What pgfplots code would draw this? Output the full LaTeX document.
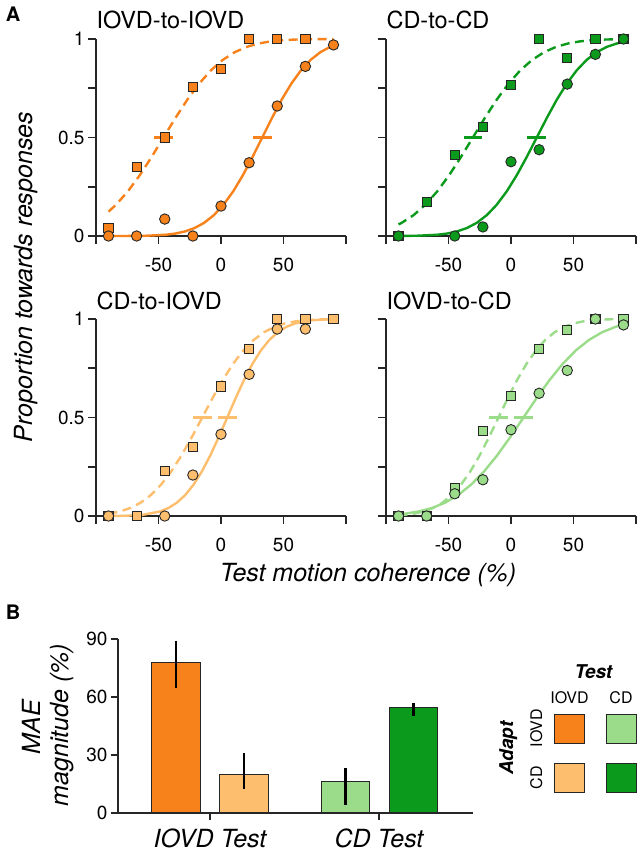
\documentclass[border=0pt]{standalone}
\usepackage{pgfplots}
\pgfplotsset{compat=1.18}
\usepackage{fontspec}
\setmainfont{TeX Gyre Heros}

\definecolor{orD}{HTML}{F7821B}
\definecolor{orL}{HTML}{FDBE6E}
\definecolor{grL}{HTML}{9BDC8A}
\definecolor{grD}{HTML}{0C9A1C}
\definecolor{axc}{HTML}{262626}

\pgfplotsset{
  panel/.style={
    scale only axis, width=250pt, height=197pt,
    xmin=-100, xmax=100, ymin=0, ymax=1,
    axis x line*=bottom, axis y line*=left,
    axis line style={line width=1.7pt, axc},
    clip=false,
    xtick={-100,-50,0,50,100}, xticklabels={,-50,0,50,},
    ytick={0,0.25,0.5,0.75,1},
    tick align=outside, major tick length=8pt,
    tick style={line width=1.7pt, axc},
    tick label style={font=\fontsize{19}{21}\selectfont},
    xticklabel style={yshift=-10pt},
  },
  fitD/.style={no marks, line width=2.4pt, dash pattern=on 9pt off 5.5pt, #1},
  fitS/.style={no marks, line width=2.4pt, #1},
  pse/.style={no marks, line width=2.8pt, #1},
  sq/.style={only marks, mark=square*, mark size=4.6pt,
    mark options={fill=#1, draw=axc, line width=0.9pt, solid}},
  ci/.style={only marks, mark=*, mark size=5.2pt,
    mark options={fill=#1, draw=axc, line width=0.9pt, solid}},
  barerr/.style={draw=axc, line width=1pt, fill=#1,
    error bars/y dir=both, error bars/y explicit, error bars/error mark=none,
    error bars/error bar style={line width=2.6pt, black}},
}

\begin{document}
\begin{tikzpicture}
\useasboundingbox (0pt,0pt) rectangle (638pt,-852pt);

% ---------- A: IOVD-to-IOVD
\begin{axis}[panel, at={(96pt,-236pt)}, anchor=south west, yticklabels={0,,0.5,,1}]
\addplot[fitD=orD] coordinates {(-90,0.1235) (-84,0.1587) (-74.5,0.2266) (-65,0.3085) (-55.5,0.4013) (-46,0.5) (-36.5,0.5987) (-27,0.6915) (-17.5,0.7734) (-8,0.8413) (1.5,0.8944) (11,0.9332) (20.5,0.9599) (30,0.9772) (39.5,0.9878) (49,0.9938) (58.5,0.9970) (68,0.99865) (77.5,0.99942) (90,0.9998)};
\addplot[fitS=orD] coordinates {(-90,0.00004) (-75.5,0.00023) (-60,0.00135) (-44.5,0.0062) (-36.75,0.0122) (-29,0.0228) (-21.25,0.0401) (-13.5,0.0668) (-5.75,0.1056) (2,0.1587) (9.75,0.2266) (17.5,0.3085) (25.25,0.4013) (33,0.5) (40.75,0.5987) (48.5,0.6915) (56.25,0.7734) (64,0.8413) (71.75,0.8944) (79.5,0.9332) (87.25,0.9599) (90,0.967)};
\addplot[pse=orD] coordinates {(-53.5,0.5) (-38.5,0.5)};
\addplot[pse=orD] coordinates {(25.5,0.5) (40.5,0.5)};
\addplot[sq=orD] coordinates {(-90,0.039) (-67.5,0.352) (-45,0.50) (-22.5,0.758) (0,0.848) (22.5,1) (45,1) (67.5,1)};
\addplot[ci=orD] coordinates {(-90,0) (-67.5,0) (-45,0.086) (-22.5,0) (0,0.152) (22.5,0.372) (45,0.66) (67.5,0.861) (90,0.97)};
\end{axis}

% ---------- CD-to-CD
\begin{axis}[panel, at={(386pt,-236pt)}, anchor=south west, yticklabels={}]
\addplot[fitD=grD] coordinates {(-90,0.0587) (-87.5,0.0668) (-78,0.1056) (-68.5,0.1587) (-59,0.2266) (-49.5,0.3085) (-40,0.4013) (-30.5,0.5) (-21,0.5987) (-11.5,0.6915) (-2,0.7734) (7.5,0.8413) (17,0.8944) (26.5,0.9332) (36,0.9599) (45.5,0.9772) (55,0.9878) (64.5,0.9938) (74,0.9970) (83.5,0.99865) (90,0.9992)};
\addplot[fitS=grD] coordinates {(-90,0.0003) (-75.4,0.00135) (-59.4,0.0062) (-51.4,0.0122) (-43.4,0.0228) (-35.4,0.0401) (-27.4,0.0668) (-19.4,0.1056) (-11.4,0.1587) (-3.4,0.2266) (4.6,0.3085) (12.6,0.4013) (20.6,0.5) (28.6,0.5987) (36.6,0.6915) (44.6,0.7734) (52.6,0.8413) (60.6,0.8944) (68.6,0.9332) (76.6,0.9599) (84.6,0.9772) (90,0.985)};
\addplot[pse=grD] coordinates {(-38,0.5) (-23,0.5)};
\addplot[pse=grD] coordinates {(13,0.5) (28,0.5)};
\addplot[sq=grD] coordinates {(-90,0) (-67.5,0.171) (-45,0.411) (-22.5,0.555) (0,0.766) (22.5,1) (45,0.902) (67.5,1) (90,1)};
\addplot[ci=grD] coordinates {(-90,0) (-45,0) (-22.5,0.046) (0,0.377) (22.5,0.438) (45,0.771) (67.5,0.922) (90,1)};
\end{axis}

% ---------- CD-to-IOVD
\begin{axis}[panel, at={(96pt,-516pt)}, anchor=south west, yticklabels={0,,0.5,,1}]
\addplot[fitD=orL] coordinates {(-90,0.0116) (-81,0.0228) (-72.75,0.0401) (-64.5,0.0668) (-56.25,0.1056) (-48,0.1587) (-39.75,0.2266) (-31.5,0.3085) (-23.25,0.4013) (-15,0.5) (-6.75,0.5987) (1.5,0.6915) (9.75,0.7734) (18,0.8413) (26.25,0.8944) (34.5,0.9332) (42.75,0.9599) (51,0.9772) (59.25,0.9878) (67.5,0.9938) (75.75,0.9970) (84,0.99865) (90,0.9993)};
\addplot[fitS=orL] coordinates {(-90,0.0002) (-76,0.00135) (-62.5,0.0062) (-49,0.0228) (-42.25,0.0401) (-35.5,0.0668) (-28.75,0.1056) (-22,0.1587) (-15.25,0.2266) (-8.5,0.3085) (-1.75,0.4013) (5,0.5) (11.75,0.5987) (18.5,0.6915) (25.25,0.7734) (32,0.8413) (38.75,0.8944) (45.5,0.9332) (52.25,0.9599) (59,0.9772) (72.5,0.9938) (86,0.99865) (90,0.9992)};
\addplot[pse=orL] coordinates {(-22.5,0.5) (-7.5,0.5)};
\addplot[pse=orL] coordinates {(-2.5,0.5) (12.5,0.5)};
\addplot[sq=orL] coordinates {(-90,0) (-67.5,0) (-45,0.23) (-22.5,0.352) (0,0.658) (22.5,0.848) (45,1) (67.5,1) (90,1)};
\addplot[ci=orL] coordinates {(-90,0) (-45,0) (-22.5,0.208) (0,0.415) (22.5,0.719) (45,0.949) (67.5,0.949)};
\end{axis}

% ---------- IOVD-to-CD
\begin{axis}[panel, at={(386pt,-516pt)}, anchor=south west, yticklabels={}]
\addplot[fitD=grL] coordinates {(-90,0.0038) (-85,0.0062) (-77.5,0.0122) (-70,0.0228) (-62.5,0.0401) (-55,0.0668) (-47.5,0.1056) (-40,0.1587) (-32.5,0.2266) (-25,0.3085) (-17.5,0.4013) (-10,0.5) (-2.5,0.5987) (5,0.6915) (12.5,0.7734) (20,0.8413) (27.5,0.8944) (35,0.9332) (42.5,0.9599) (50,0.9772) (57.5,0.9878) (65,0.9938) (72.5,0.9970) (80,0.99865) (90,0.9996)};
\addplot[fitS=grL] coordinates {(-90,0.0087) (-84.5,0.0122) (-74,0.0228) (-63.5,0.0401) (-53,0.0668) (-42.5,0.1056) (-32,0.1587) (-21.5,0.2266) (-11,0.3085) (-0.5,0.4013) (10,0.5) (20.5,0.5987) (31,0.6915) (41.5,0.7734) (52,0.8413) (62.5,0.8944) (73,0.9332) (83.5,0.9599) (90,0.9716)};
\addplot[pse=grL] coordinates {(-17.5,0.5) (-2.5,0.5)};
\addplot[pse=grL] coordinates {(2.5,0.5) (17.5,0.5)};
\addplot[sq=grL] coordinates {(-90,0) (-67.5,0) (-45,0.14) (-22.5,0.433) (0,0.611) (22.5,0.848) (45,0.944) (67.5,1) (90,1)};
\addplot[ci=grL] coordinates {(-90,0) (-67.5,0) (-45,0.113) (-22.5,0.184) (0,0.438) (22.5,0.623) (45,0.739) (67.5,1) (90,0.97)};
\end{axis}

% panel titles and labels
\node[anchor=west, font=\fontsize{23.5}{25}\selectfont] at (93pt,-20pt) {IOVD-to-IOVD};
\node[anchor=west, font=\fontsize{23.5}{25}\selectfont] at (383pt,-20pt) {CD-to-CD};
\node[anchor=west, font=\fontsize{23.5}{25}\selectfont] at (93pt,-301pt) {CD-to-IOVD};
\node[anchor=west, font=\fontsize{23.5}{25}\selectfont] at (383pt,-301pt) {IOVD-to-CD};
\node[font=\fontsize{20}{22}\selectfont\bfseries] at (13pt,-14pt) {A};
\node[font=\fontsize{20}{22}\selectfont\bfseries] at (13pt,-612pt) {B};
\node[anchor=base, font=\fontsize{25}{27}\selectfont\itshape] at (368pt,-581.5pt) {Test motion coherence (\%)};
\node[anchor=base, rotate=90, font=\fontsize{25}{27}\selectfont\itshape] at (32pt,-277pt) {Proportion towards responses};

% ---------- B: bar chart
\begin{axis}[
  at={(118pt,-812.7pt)}, anchor=south west,
  scale only axis, width=355pt, height=173.4pt,
  xmin=118, xmax=473, ymin=0, ymax=90,
  ybar, bar width=48.5, bar shift=0pt,
  axis x line*=bottom, axis y line*=left,
  axis line style={line width=1.7pt, axc},
  tick align=outside, major tick length=7pt,
  tick style={line width=1.7pt, axc},
  ytick={0,30,60,90},
  xtick={210,379},
  xticklabels={IOVD Test, CD Test},
  xticklabel style={font=\fontsize{25}{27}\selectfont\itshape, yshift=-6pt},
  yticklabel style={font=\fontsize{19}{21}\selectfont},
  /pgf/number format/assume math mode=true,
  clip=false,
]
\addplot[barerr=orD] coordinates {(176,77.8) += (0,11.5) -= (0,13.2)};
\addplot[barerr=orL] coordinates {(244,19.9) += (0,10.9) -= (0,7.8)};
\addplot[barerr=grL] coordinates {(345.5,16.4) += (0,7.0) -= (0,12.4)};
\addplot[barerr=grD] coordinates {(413.5,54.5) += (0,2.3) -= (0,4.2)};
\end{axis}

\node[anchor=base, rotate=90, font=\fontsize{25}{27}\selectfont\itshape] at (40pt,-727pt) {MAE};
\node[anchor=base, rotate=90, font=\fontsize{25}{27}\selectfont\itshape] at (68pt,-725pt) {magnitude (\%)};

% legend grid
\draw[axc, line width=1pt, fill=orD] (554pt,-714pt) rectangle (584pt,-743pt);
\draw[axc, line width=1pt, fill=grL] (606pt,-714pt) rectangle (636pt,-743pt);
\draw[axc, line width=1pt, fill=orL] (554pt,-763pt) rectangle (584pt,-792pt);
\draw[axc, line width=1pt, fill=grD] (606pt,-763pt) rectangle (636pt,-792pt);
\node[anchor=base, font=\fontsize{19}{21}\selectfont\bfseries\itshape] at (593.5pt,-678pt) {Test};
\node[anchor=base, font=\fontsize{16}{18}\selectfont] at (569.5pt,-703.3pt) {IOVD};
\node[anchor=base, font=\fontsize{16}{18}\selectfont] at (621pt,-703.3pt) {CD};
\node[anchor=base, rotate=90, font=\fontsize{16}{18}\selectfont] at (542pt,-728pt) {IOVD};
\node[anchor=base, rotate=90, font=\fontsize{16}{18}\selectfont] at (542pt,-777.5pt) {CD};
\node[anchor=base, rotate=90, font=\fontsize{19}{21}\selectfont\bfseries\itshape] at (513pt,-748pt) {Adapt};
\end{tikzpicture}
\end{document}
